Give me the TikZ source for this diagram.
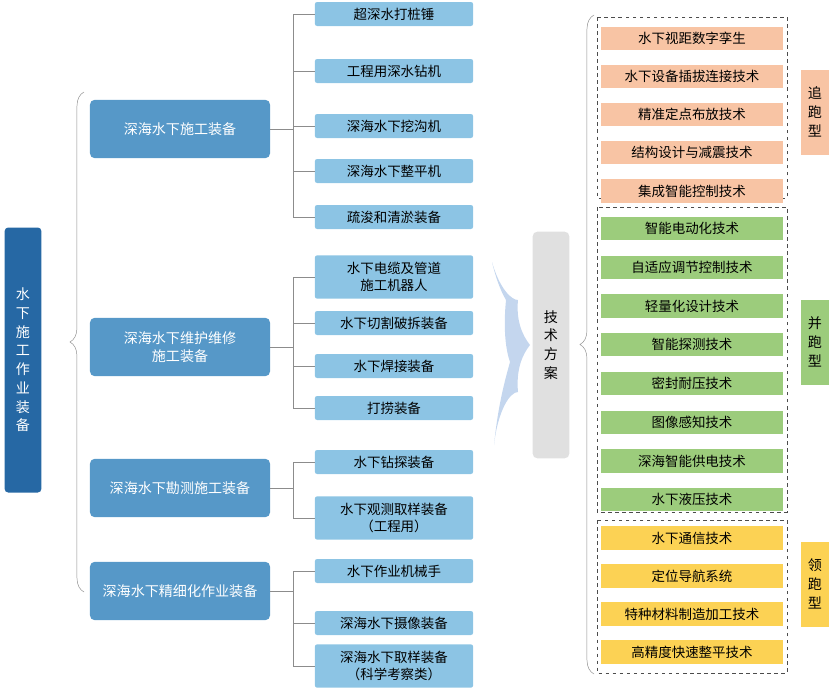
\documentclass[tikz,border=0pt]{standalone}
\usepackage{fontspec}
\setmainfont{Noto Sans CJK SC}
\usetikzlibrary{positioning,decorations.pathreplacing,calc}
\definecolor{rootblue}{RGB}{38,104,164}
\definecolor{catblue}{RGB}{86,152,200}
\definecolor{leafblue}{RGB}{140,196,228}
\definecolor{chaseorange}{RGB}{248,196,164}
\definecolor{parallelgreen}{RGB}{156,204,124}
\definecolor{leadyellow}{RGB}{252,210,84}
\definecolor{arrowblue}{RGB}{196,214,238}
\definecolor{linegray}{RGB}{140,140,140}

\begin{document}
\begin{tikzpicture}[
    x=0.03cm, y=-0.03cm,
    rootbox/.style={rectangle, fill=rootblue, rounded corners=3pt, minimum width=1.1cm, minimum height=7.95cm, align=center, text=white, font=\fontsize{12}{16}\selectfont},
    catbox/.style={rectangle, fill=catblue, rounded corners=4pt, minimum width=5.4cm, minimum height=1.75cm, align=center, text=white, font=\fontsize{12}{15}\selectfont},
    leafbox/.style={rectangle, fill=leafblue, rounded corners=2pt, minimum width=4.75cm, minimum height=0.72cm, align=center, font=\fontsize{11.5}{14}\selectfont},
    techbox/.style={rectangle, minimum width=5.46cm, minimum height=0.7cm, align=center, font=\fontsize{11.5}{13}\selectfont},
    typebox/.style={rectangle, minimum width=0.85cm, minimum height=2.55cm, align=center, font=\fontsize{12}{16}\selectfont},
    group/.style={draw=black!70, dashed, thick},
    tick/.style={draw=linegray, thin},
    curly/.style={draw=linegray, decorate, decoration={brace, amplitude=12pt, mirror}}
]
    \useasboundingbox (0,0) rectangle (833,691);
    \coordinate (bx) at (293,0);

    % root
    \node[rootbox] (root) at (23,360) {水\\下\\施\\工\\作\\业\\装\\备};
    \draw[curly] (84,92) -- (84,592);

    % level 1
    \node[catbox] (cat1) at (180,129) {深海水下施工装备};
    \node[catbox] (cat2) at (180,347) {深海水下维护维修\\施工装备};
    \node[catbox] (cat3) at (180,488) {深海水下勘测施工装备};
    \node[catbox] (cat4) at (180,591) {深海水下精细化作业装备};

    % leaves
    \node[leafbox] (a1) at (394,14) {超深水打桩锤};
    \node[leafbox] (a2) at (394,71) {工程用深水钻机};
    \node[leafbox] (a3) at (394,126) {深海水下挖沟机};
    \node[leafbox] (a4) at (394,171) {深海水下整平机};
    \node[leafbox] (a5) at (394,217) {疏浚和清淤装备};
    \node[leafbox, minimum height=1.3cm] (b1) at (394,277) {水下电缆及管道\\施工机器人};
    \node[leafbox] (b2) at (394,323) {水下切割破拆装备};
    \node[leafbox] (b3) at (394,366) {水下焊接装备};
    \node[leafbox] (b4) at (394,408) {打捞装备};
    \node[leafbox] (c1) at (394,462) {水下钻探装备};
    \node[leafbox, minimum height=1.3cm] (c2) at (394,518) {水下观测取样装备\\（工程用）};
    \node[leafbox] (d1) at (394,571) {水下作业机械手};
    \node[leafbox] (d2) at (394,623) {深海水下摄像装备};
    \node[leafbox, minimum height=1.3cm] (d3) at (394,666) {深海水下取样装备\\（科学考察类）};

    % brackets
    \foreach \cat/\first/\last/\leaves in {cat1/a1/a5/{a1,a2,a3,a4,a5}, cat2/b1/b4/{b1,b2,b3,b4}, cat3/c1/c2/{c1,c2}, cat4/d1/d3/{d1,d2,d3}} {
        \draw[tick] (\cat.east) -- (\cat.east -| bx);
        \draw[tick] (\first.west -| bx) -- (\last.west -| bx);
        \foreach \l in \leaves
            \draw[tick] (\l.west -| bx) -- (\l.west);
    }

    % arrow
    \fill[arrowblue] (492,262) .. controls (500,290) and (512,300) .. (518,300)
        .. controls (516,320) and (522,335) .. (530,345)
        .. controls (522,355) and (516,370) .. (518,392)
        .. controls (510,392) and (498,410) .. (494,445)
        .. controls (498,405) and (505,380) .. (510,362)
        .. controls (504,345) and (504,320) .. (506,300)
        .. controls (500,290) and (495,275) .. (492,262) -- cycle;
    \node[rectangle, fill=black!12, rounded corners=4pt, minimum width=1.1cm, minimum height=6.8cm, align=center, font=\fontsize{12}{16}\selectfont] (plan) at (551,345) {技\\术\\方\\案};
    \draw[curly] (594,15) -- (594,674);

    % groups
    \draw[group] (597,17) rectangle (787,198);
    \draw[group] (597,207) rectangle (787,512);
    \draw[group] (597,520) rectangle (787,673);

    \foreach \t [count=\i] in {水下视距数字孪生, 水下设备插拔连接技术, 精准定点布放技术, 结构设计与减震技术, 集成智能控制技术}
        \node[techbox, fill=chaseorange] (o\i) at (692,{0+38.2*\i}) {\t};
    \foreach \t [count=\i] in {智能电动化技术, 自适应调节控制技术, 轻量化设计技术, 智能探测技术, 密封耐压技术, 图像感知技术, 深海智能供电技术, 水下液压技术}
        \node[techbox, fill=parallelgreen] (g\i) at (692,{190+38.7*\i}) {\t};
    \foreach \t [count=\i] in {水下通信技术, 定位导航系统, 特种材料制造加工技术, 高精度快速整平技术}
        \node[techbox, fill=leadyellow] (y\i) at (692,{500+38*\i}) {\t};

    \node[typebox, fill=chaseorange] (chase) at (815,112) {追\\跑\\型};
    \node[typebox, fill=parallelgreen] (parallel) at (815,342) {并\\跑\\型};
    \node[typebox, fill=leadyellow] (lead) at (815,584) {领\\跑\\型};
\end{tikzpicture}
\end{document}
